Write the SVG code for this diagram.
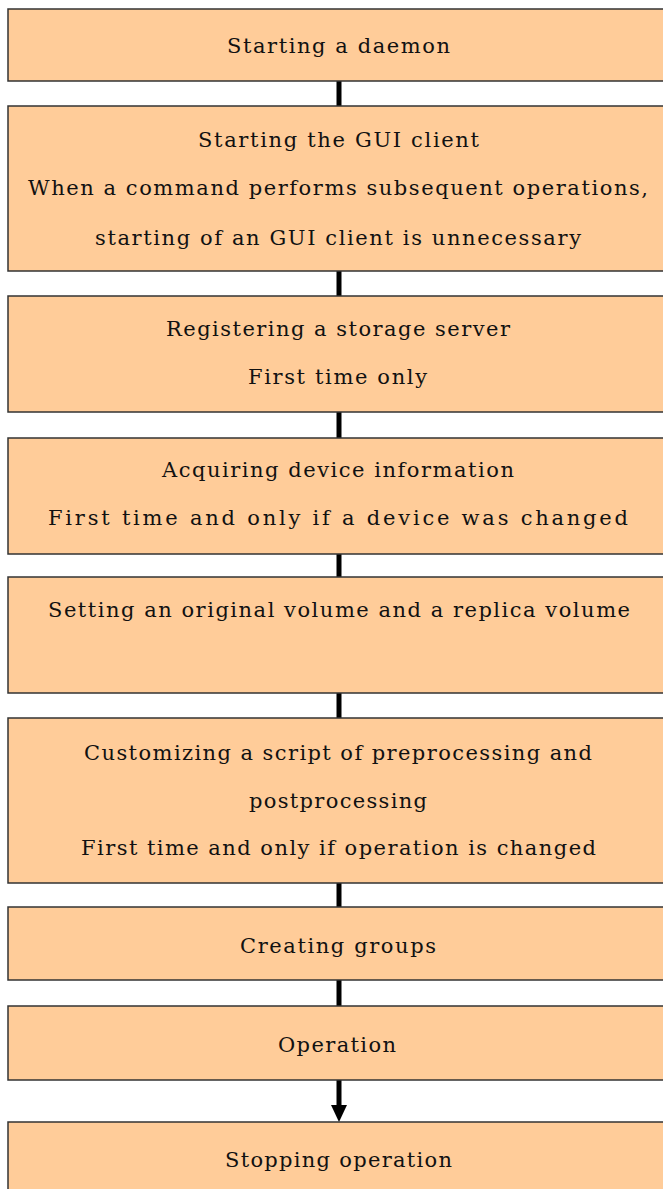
<svg xmlns="http://www.w3.org/2000/svg" width="663" height="1189" viewBox="0 0 663 1189">
<style>
.box{fill:#FFCC99;stroke:#333;stroke-width:1.5}
.t{font-family:"DejaVu Serif","Liberation Serif",serif;font-size:21px;fill:#111}
.c{stroke:#000;stroke-width:5;fill:none}
</style>
<rect width="663" height="1189" fill="#fff"/>
<g id="connectors">
<line class="c" x1="339" y1="81" x2="339" y2="106"/>
<line class="c" x1="339" y1="271" x2="339" y2="296"/>
<line class="c" x1="339" y1="412" x2="339" y2="438"/>
<line class="c" x1="339" y1="554" x2="339" y2="577"/>
<line class="c" x1="339" y1="693" x2="339" y2="718"/>
<line class="c" x1="339" y1="883" x2="339" y2="907"/>
<line class="c" x1="339" y1="980" x2="339" y2="1006"/>
<line class="c" x1="339" y1="1080" x2="339" y2="1106"/>
<polygon points="331,1105 347,1105 339,1122" fill="#000"/>
</g>
<g id="n1"><rect class="box" x="8" y="9" width="670" height="72"/>
<text class="t" x="227" y="53" textLength="223" lengthAdjust="spacing">Starting a daemon</text></g>
<g id="n2"><rect class="box" x="8" y="106" width="670" height="165"/>
<text class="t" x="198" y="147" textLength="281" lengthAdjust="spacing">Starting the GUI client</text>
<text class="t" x="28" y="195" textLength="620" lengthAdjust="spacing">When a command performs subsequent operations,</text>
<text class="t" x="95" y="245" textLength="486" lengthAdjust="spacing">starting of an GUI client is unnecessary</text></g>
<g id="n3"><rect class="box" x="8" y="296" width="670" height="116"/>
<text class="t" x="166" y="336" textLength="344" lengthAdjust="spacing">Registering a storage server</text>
<text class="t" x="248" y="384" textLength="179" lengthAdjust="spacing">First time only</text></g>
<g id="n4"><rect class="box" x="8" y="438" width="670" height="116"/>
<text class="t" x="162" y="477" textLength="352" lengthAdjust="spacing">Acquiring device information</text>
<text class="t" x="48" y="525" textLength="580" lengthAdjust="spacing">First time and only if a device was changed</text></g>
<g id="n5"><rect class="box" x="8" y="577" width="670" height="116"/>
<text class="t" x="48" y="617" textLength="582" lengthAdjust="spacing">Setting an original volume and a replica volume</text></g>
<g id="n6"><rect class="box" x="8" y="718" width="670" height="165"/>
<text class="t" x="84" y="760" textLength="508" lengthAdjust="spacing">Customizing a script of preprocessing and</text>
<text class="t" x="249" y="808" textLength="178" lengthAdjust="spacing">postprocessing</text>
<text class="t" x="81" y="855" textLength="515" lengthAdjust="spacing">First time and only if operation is changed</text></g>
<g id="n7"><rect class="box" x="8" y="907" width="670" height="73"/>
<text class="t" x="240" y="953" textLength="196" lengthAdjust="spacing">Creating groups</text></g>
<g id="n8"><rect class="box" x="8" y="1006" width="670" height="74"/>
<text class="t" x="278" y="1052" textLength="118" lengthAdjust="spacing">Operation</text></g>
<g id="n9"><rect class="box" x="8" y="1122" width="670" height="90"/>
<text class="t" x="225" y="1167" textLength="227" lengthAdjust="spacing">Stopping operation</text></g>
</svg>
